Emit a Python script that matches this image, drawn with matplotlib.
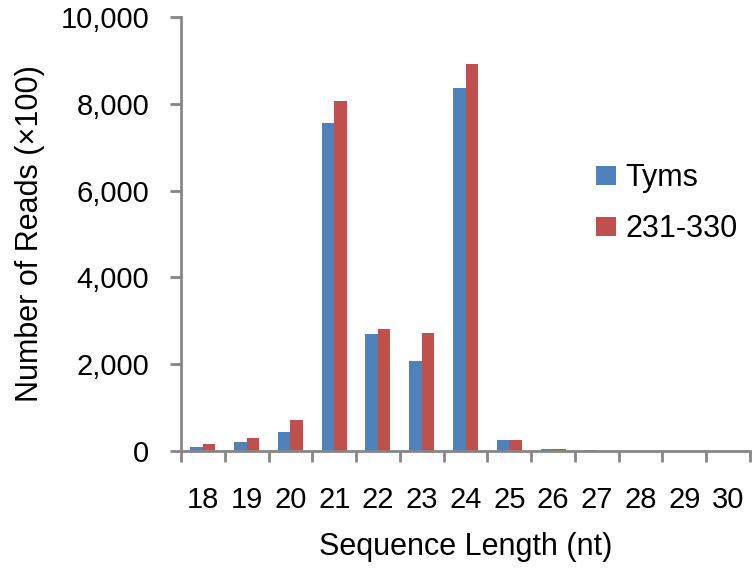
import matplotlib
matplotlib.use("Agg")
import matplotlib.pyplot as plt
import numpy as np
from matplotlib.ticker import FuncFormatter

plt.rcParams['font.family'] = ['Liberation Sans', 'DejaVu Sans']

lengths = ["18", "19", "20", "21", "22", "23", "24", "25", "26", "27", "28", "29", "30"]
tyms = [85, 200, 430, 7550, 2700, 2080, 8370, 260, 50, 30, 5, 3, 2]
s231 = [150, 290, 720, 8060, 2820, 2730, 8920, 260, 40, 10, 5, 3, 2]

blue = "#4F81BD"
red = "#C0504D"
gray = "#868686"

fig = plt.figure(figsize=(7.56, 5.71), dpi=100)
ax = fig.add_axes([181/756, 1-451/571, (750-181)/756, (451-17)/571])

x = np.arange(len(lengths))
w = 0.285
ax.bar(x - w/2, tyms, w, color=blue, label="Tyms")
ax.bar(x + w/2, s231, w, color=red, label="231-330")

ax.set_xlim(-0.5, len(lengths) - 0.5)
ax.set_ylim(0, 10000)
ax.set_yticks(range(0, 10001, 2000))
ax.yaxis.set_major_formatter(FuncFormatter(lambda v, p: f"{int(v):,}"))

ax.set_xticks(x)
ax.set_xticklabels(lengths)
ax.set_xticks(np.arange(-0.5, len(lengths), 1.0), minor=True)
ax.tick_params(axis='x', which='major', length=0, pad=25, labelsize=21)
ax.tick_params(axis='x', which='minor', length=8, width=2, color=gray, direction='out')
ax.tick_params(axis='y', length=8, width=2, color=gray, labelsize=21, pad=15)

for s in ['top', 'right']:
    ax.spines[s].set_visible(False)
for s in ['left', 'bottom']:
    ax.spines[s].set_color(gray)
    ax.spines[s].set_linewidth(2)

ax.set_xlabel("Sequence Length (nt)", fontsize=22, labelpad=13)
ax.set_ylabel("Number of Reads (×100)", fontsize=22, labelpad=11)

leg = ax.legend(loc='upper left', bbox_to_anchor=(596/756, 1-163/571), bbox_transform=fig.transFigure,
                frameon=False, fontsize=22, handlelength=0.65, handleheight=0.6,
                labelspacing=0.7, handletextpad=0.3, borderpad=0, borderaxespad=0)

fig.savefig("out.png", dpi=100)
